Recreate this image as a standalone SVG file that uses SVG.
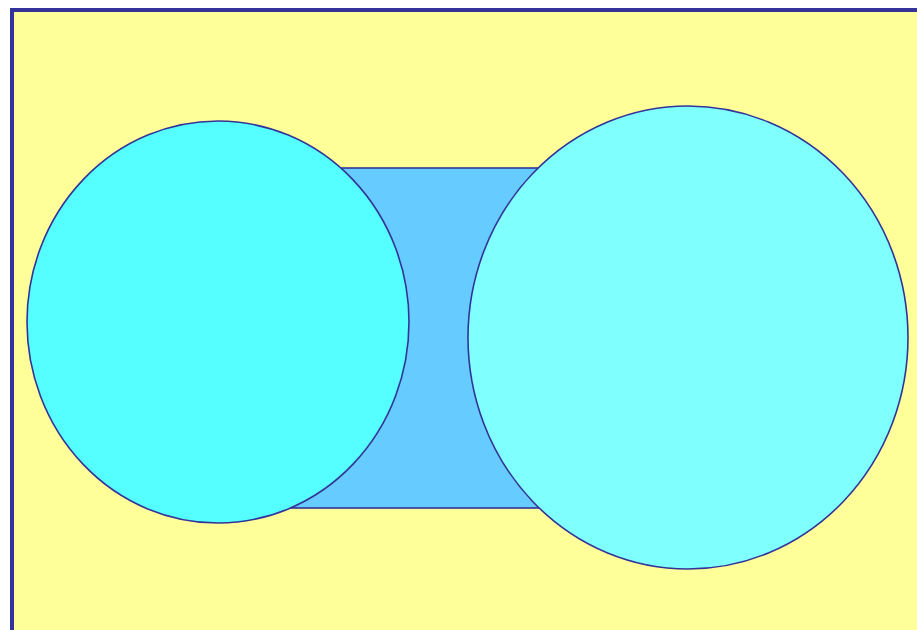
<svg xmlns="http://www.w3.org/2000/svg" width="917" height="630" viewBox="0 0 917 630">
<style>
.sh{stroke:#333399;stroke-width:1.6}
</style>
<rect width="917" height="630" fill="#ffffff"/>
<g id="frame"><rect x="12" y="10" width="920" height="640" fill="#ffff99" stroke="#333399" stroke-width="4"/></g>
<g id="bar"><rect class="sh" x="218" y="168" width="470" height="340" fill="#66ccff"/></g>
<g id="left-circle"><ellipse class="sh" cx="218" cy="322" rx="191" ry="201" fill="#55ffff"/></g>
<g id="right-circle"><ellipse class="sh" cx="688" cy="337.5" rx="220" ry="231.5" fill="#80ffff"/></g>
<g id="connectors"></g>
</svg>
